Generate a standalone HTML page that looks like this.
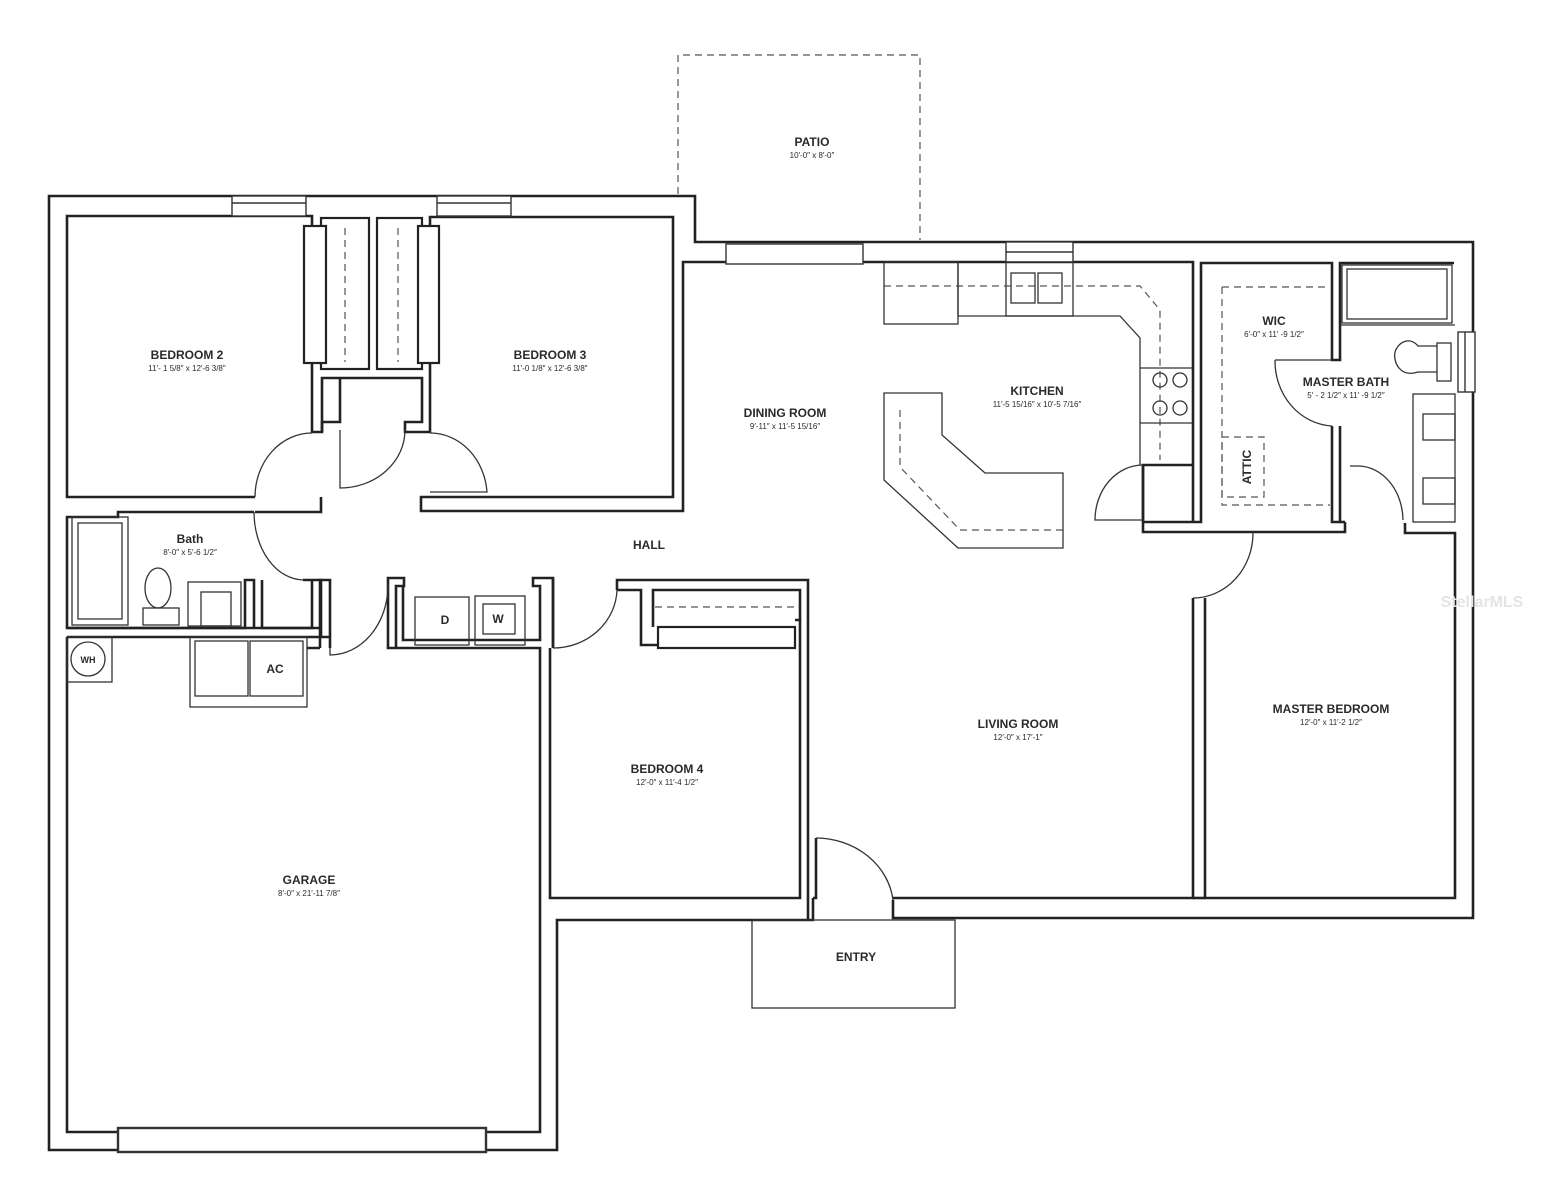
<!DOCTYPE html>
<html><head><meta charset="utf-8"><style>
html,body{margin:0;padding:0;background:#fff;}
svg{display:block;}
text{font-family:"Liberation Sans",sans-serif;fill:#2a2a2a;text-anchor:middle;}
.t{font-size:12px;font-weight:bold;}
.d{font-size:8px;}
</style></head><body>
<svg width="1559" height="1200" viewBox="0 0 1559 1200" xmlns="http://www.w3.org/2000/svg">
<g fill="none" stroke="#222" stroke-width="2.6" stroke-linejoin="miter">
<path d="M893,900 V918 H1473 V242 H695 V196 H49 V1150 H557 V920 H813 V898"/>
<path d="M255,497 H67 V216 H312 V432 H322 V422 H340 V378"/>
<path d="M322,432 V378 H422 V422 H405 V432 H430 V217 H673 V497 H421 V511 H683 V262 H1193 V465"/>
<path d="M255,512 H321 V497"/>
<path d="M254,512 H118 V517 H67 V628 H245 V580 H254 V628 M262,580 V628 H312 V580 H303 M312,580 H321 V637"/>
<path d="M67,637 V1132 H118 M486,1132 H540 V648 H388 V578 H404 V586 H396 V648 M330,637 H67 M320,628 V648 M307,648 H320"/>
<path d="M67,628 H320 V580 H330 V648"/>
<path d="M403,586 V640 H540 V586 H533 V578 H553 V648"/>
<path d="M550,648 V898 H800 V620 H795 M553,648 V578"/>
<path d="M617,590 V580 H808 V920"/>
<path d="M617,590 H641 V645 H658"/>
<path d="M653,627 V590 H800 V620"/>
<path d="M816,838 V898 H813"/>
<path d="M893,898 H1193 V598 M1205,598 V898 H1455 V533 H1405 V523"/>
<path d="M1193,898 H1205"/>
<path d="M1193,465 H1143 V532 H1345 V522 M1143,522 H1201 V263 H1332 V360 H1340 V263 H1454 M1332,426 V522 H1340 V426"/>
<path d="M1193,465 V522 M1143,465 V522"/>
<path d="M1340,522 H1345"/>
</g>
<g fill="#fff" stroke="#333" stroke-width="1.4">
<rect x="232" y="196" width="74" height="20"/><line x1="232" y1="203" x2="306" y2="203"/>
<rect x="437" y="196" width="74" height="20"/><line x1="437" y1="203" x2="511" y2="203"/>
<rect x="726" y="244" width="137" height="20"/>
<rect x="1006" y="242" width="67" height="20"/><line x1="1006" y1="252" x2="1073" y2="252"/>
<rect x="1458" y="332" width="17" height="60"/><line x1="1465" y1="332" x2="1465" y2="392"/>
<rect x="118" y="1128" width="368" height="24" stroke-width="2.4"/>
</g>
<g fill="#fff" stroke="#222" stroke-width="2.2">
<rect x="321" y="218" width="48" height="151"/>
<rect x="377" y="218" width="45" height="151"/>
<rect x="304" y="226" width="22" height="137"/>
<rect x="418" y="226" width="21" height="137"/>
<rect x="658" y="627" width="137" height="21"/>
</g>
<g stroke="#555" stroke-width="1.2" stroke-dasharray="7,5" fill="none">
<line x1="345" y1="228" x2="345" y2="362"/>
<line x1="398" y1="228" x2="398" y2="362"/>
<line x1="655" y1="607" x2="798" y2="607"/>
<path d="M678,194 V55 H920 V240"/>
<path d="M884,286 H1140 L1160,310 V460"/>
<path d="M900,410 V467 L960,530 H1063"/>
<path d="M1222,287 V505 H1330 M1222,287 H1330"/>
<rect x="1222" y="437" width="42" height="60"/>
</g>
<g fill="none" stroke="#333" stroke-width="1.3">
<rect x="72" y="517" width="56" height="108"/><rect x="78" y="523" width="44" height="96"/>
<ellipse cx="158" cy="588" rx="13" ry="20"/><rect x="143" y="608" width="36" height="17"/>
<rect x="188" y="582" width="53" height="44"/><rect x="201" y="592" width="30" height="34"/>
<rect x="67" y="637" width="45" height="45"/><circle cx="88" cy="659" r="17"/>
<rect x="190" y="637" width="117" height="70"/><rect x="195" y="641" width="53" height="55"/><rect x="250" y="641" width="53" height="55"/>
<rect x="415" y="597" width="54" height="48"/><rect x="475" y="596" width="50" height="49"/><rect x="483" y="604" width="32" height="30"/>
<rect x="884" y="262" width="74" height="62"/>
<path d="M958,262 V316 H1120 L1140,338 V465 M958,316 V262"/>
<rect x="1006" y="262" width="67" height="54"/><rect x="1011" y="273" width="24" height="30"/><rect x="1038" y="273" width="24" height="30"/>
<line x1="1140" y1="368" x2="1193" y2="368"/><line x1="1140" y1="423" x2="1193" y2="423"/>
<circle cx="1160" cy="380" r="7"/><circle cx="1180" cy="380" r="7"/><circle cx="1160" cy="408" r="7"/><circle cx="1180" cy="408" r="7"/>
<path d="M884,393 H942 V435 L985,473 H1063 V548 H958 L884,480 Z"/>
<rect x="1342" y="265" width="110" height="58"/><rect x="1347" y="269" width="100" height="50"/>
<line x1="1340" y1="325" x2="1455" y2="325"/>
<path d="M1437,346 H1418 C1410,336 1398,342 1395,352 C1393,362 1400,378 1418,372 H1437"/>
<rect x="1437" y="343" width="14" height="38"/>
<rect x="1413" y="394" width="42" height="128"/>
<rect x="1423" y="414" width="32" height="26"/><rect x="1423" y="478" width="32" height="26"/>
<rect x="752" y="920" width="203" height="88"/>
<path d="M312,433 A57,64 0 0 0 255,497"/>
<path d="M340,430 V488 A65,58 0 0 0 405,430"/>
<path d="M430,433 A57,64 0 0 1 487,492 H430"/>
<path d="M254,512 A50,68 0 0 0 304,580"/>
<path d="M330,648 V655 A58,70 0 0 0 388,585"/>
<path d="M553,648 A64,60 0 0 0 617,590"/>
<path d="M816,838 A78,70 0 0 1 893,900"/>
<path d="M1143,465 A48,55 0 0 0 1095,520 H1143"/>
<path d="M1193,598 A60,65 0 0 0 1253,533"/>
<path d="M1275,360 H1332 M1275,360 A60,65 0 0 0 1332,426"/>
<path d="M1350,466 H1358 A45,55 0 0 1 1403,520"/>
</g>
<text class="t" x="187" y="359">BEDROOM 2</text><text class="d" x="187" y="371">11′- 1 5/8″ x 12′-6 3/8″</text>
<text class="t" x="550" y="359">BEDROOM 3</text><text class="d" x="550" y="371">11′-0 1/8″ x 12′-6 3/8″</text>
<text class="t" x="812" y="146">PATIO</text><text class="d" x="812" y="158">10′-0″ x 8′-0″</text>
<text class="t" x="785" y="417">DINING ROOM</text><text class="d" x="785" y="429">9′-11″ x 11′-5 15/16″</text>
<text class="t" x="1037" y="395">KITCHEN</text><text class="d" x="1037" y="407">11′-5 15/16″ x 10′-5 7/16″</text>
<text class="t" x="1274" y="325">WIC</text><text class="d" x="1274" y="337">6′-0″ x 11′ -9 1/2″</text>
<text class="t" x="1346" y="386">MASTER BATH</text><text class="d" x="1346" y="398">5′ - 2 1/2″ x 11′ -9 1/2″</text>
<text class="t" x="0" y="0" transform="translate(1251,467) rotate(-90)">ATTIC</text>
<text class="t" x="190" y="543">Bath</text><text class="d" x="190" y="555">8′-0″ x 5′-6 1/2″</text>
<text class="t" x="649" y="549">HALL</text>
<text class="t" x="88" y="663" style="font-size:9px">WH</text>
<text class="t" x="275" y="673">AC</text>
<text class="t" x="445" y="624">D</text><text class="t" x="498" y="623">W</text>
<text class="t" x="667" y="773">BEDROOM 4</text><text class="d" x="667" y="785">12′-0″ x 11′-4 1/2″</text>
<text class="t" x="1018" y="728">LIVING ROOM</text><text class="d" x="1018" y="740">12′-0″ x 17′-1″</text>
<text class="t" x="1331" y="713">MASTER BEDROOM</text><text class="d" x="1331" y="725">12′-0″ x 11′-2 1/2″</text>
<text class="t" x="309" y="884">GARAGE</text><text class="d" x="309" y="896">8′-0″ x 21′-11 7/8″</text>
<text class="t" x="856" y="961">ENTRY</text>
<text x="1482" y="607" style="font-size:16px;fill:#e4e4e4;font-weight:bold;text-anchor:middle">StellarMLS</text>
</svg>
</body></html>
